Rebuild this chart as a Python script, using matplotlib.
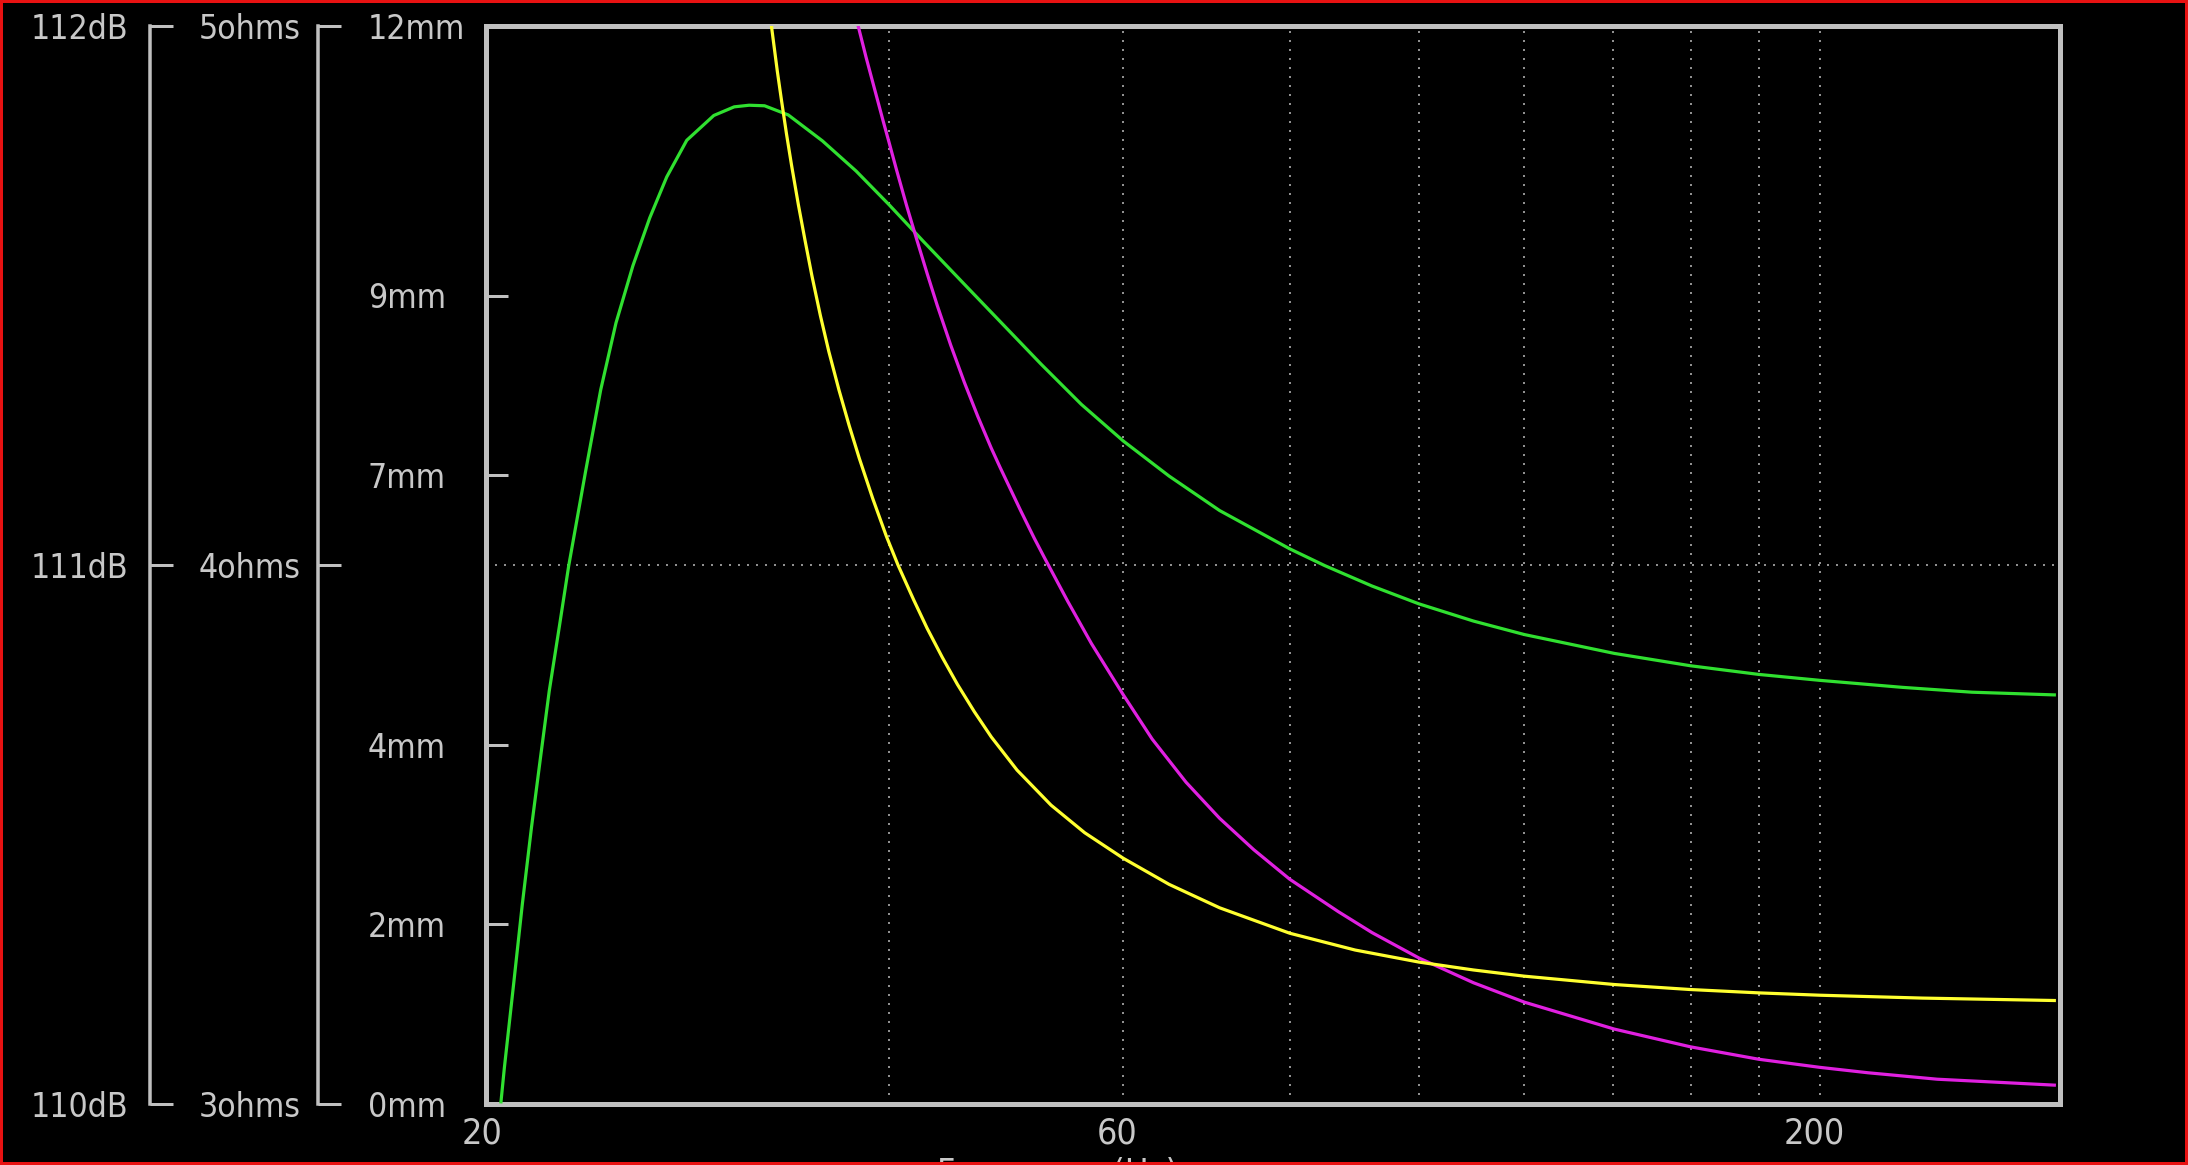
import matplotlib
matplotlib.use("Agg")
import matplotlib.pyplot as plt
from matplotlib import font_manager
from matplotlib.ticker import FixedLocator, NullFormatter
from matplotlib.patches import Rectangle
from matplotlib.transforms import ScaledTranslation

# ---------------- data ----------------
freq_spl = [20.46, 20.58, 20.92, 21.23, 21.57, 21.91, 22.24, 22.63, 23.00, 23.68,
            24.31, 24.96, 25.70, 26.46, 27.25, 28.21, 29.56, 30.62, 31.42, 32.27,
            33.62, 35.66, 37.80, 40.0, 42.48, 46.11, 49.71, 52.03, 55.80, 60.0,
            64.94, 70.87, 80.0, 84.97, 92.23, 100.0, 109.9, 120.0, 140.2, 160.0,
            180.0, 200.0, 230.7, 260.2, 300.0]
spl_db = [110.004, 110.067, 110.226, 110.371, 110.514, 110.644, 110.766, 110.885, 110.998, 111.173,
          111.325, 111.449, 111.555, 111.644, 111.720, 111.788, 111.834, 111.850, 111.853, 111.852,
          111.835, 111.787, 111.731, 111.669, 111.600, 111.508, 111.424, 111.373, 111.298, 111.230,
          111.165, 111.101, 111.030, 110.999, 110.961, 110.928, 110.896, 110.871, 110.836, 110.813,
          110.797, 110.786, 110.773, 110.764, 110.759]

freq_exc = [32.65, 32.99, 33.23, 33.52, 33.81, 34.21, 34.62, 35.02, 35.54, 36.06,
            36.70, 37.35, 38.01, 38.91, 39.83, 40.65, 41.75, 42.74, 43.88, 45.04,
            46.38, 47.75, 49.93, 52.95, 56.12, 60.0, 64.94, 70.87, 80.0, 89.57,
            100.0, 109.9, 120.0, 140.2, 160.0, 180.0, 200.0, 238.8, 300.0]
exc_mm = [12.009, 11.496, 11.171, 10.795, 10.452, 10.013, 9.603, 9.222, 8.776, 8.378,
          7.948, 7.554, 7.189, 6.738, 6.322, 5.997, 5.615, 5.296, 4.971, 4.671,
          4.366, 4.087, 3.717, 3.327, 3.020, 2.735, 2.445, 2.184, 1.901, 1.714,
          1.580, 1.492, 1.423, 1.330, 1.274, 1.237, 1.211, 1.179, 1.152]

freq_ohm = [37.93, 38.46, 39.03, 39.60, 40.0, 40.53, 41.25, 41.98, 42.74, 43.49,
            44.52, 45.58, 46.65, 47.75, 48.49, 50.24, 51.43, 52.34, 54.52, 56.79,
            60.0, 63.07, 66.87, 70.87, 75.16, 80.0, 86.99, 92.23, 100.0, 109.9,
            120.0, 140.2, 160.0, 180.0, 200.0, 217.3, 245.0, 300.0]
ohm_vals = [5.001, 4.942, 4.883, 4.825, 4.786, 4.734, 4.667, 4.604, 4.541, 4.482,
            4.408, 4.339, 4.276, 4.217, 4.181, 4.101, 4.050, 4.014, 3.932, 3.854,
            3.759, 3.677, 3.597, 3.530, 3.472, 3.417, 3.357, 3.318, 3.271, 3.225,
            3.189, 3.139, 3.106, 3.083, 3.068, 3.058, 3.046, 3.035]

x_ticks = [20, 60, 200]
x_tick_labels = ["20", "60", "200"]
x_grid_minor = [40, 80, 100, 120, 140, 160, 180]
mm_ticks = [0, 2, 4, 7, 9, 12]
mm_labels = ["0mm", "2mm", "4mm", "7mm", "9mm", "12mm"]
db_ticks = [110, 111, 112]
db_labels = ["110dB", "111dB", "112dB"]
ohm_ticks = [3, 4, 5]
ohm_labels = ["3ohms", "4ohms", "5ohms"]
x_label = "Frequency (Hz)"

# ---------------- style ----------------
W, H, DPI = 2188, 1165, 100
PT = 72.0 / DPI  # points per pixel

names = {f.name for f in font_manager.fontManager.ttflist}
stretch = "normal"
if "Liberation Sans Narrow" in names:
    FONT, scale = "Liberation Sans Narrow", 1.0
elif any(f.name == "DejaVu Sans" and str(f.stretch) == "condensed"
         for f in font_manager.fontManager.ttflist):
    FONT, scale, stretch = "DejaVu Sans", 0.95, "condensed"
else:
    FONT, scale = "Liberation Sans", 0.9
plt.rcParams["font.family"] = [FONT, "DejaVu Sans"]
plt.rcParams["font.stretch"] = stretch

TXT = "#c8c8c8"
FRAME = "#c0c0c0"
GRID = "#909090"
C_SPL, C_EXC, C_OHM = "#30e030", "#ffff30", "#e020e0"
LW = 3.2 * PT
DOTS = (0, (1, 3.5))

fig = plt.figure(figsize=(W / DPI, H / DPI), dpi=DPI, facecolor="black")


def fx(px):
    return px / W


def fy(py):
    return 1 - py / H


left_px, right_px, top_px, bot_px = 485.5, 2059.5, 26.0, 1104.0
ax = fig.add_axes([fx(left_px), fy(bot_px), (right_px - left_px) / W, (bot_px - top_px) / H])
ax.set_facecolor("black")
ax.set_xscale("log")
ax.set_xlim(19.92, 302.7)
ax.set_ylim(0, 12)
for s in ax.spines.values():
    s.set_color(FRAME)
    s.set_linewidth(5 * PT)

ax.set_xticks(x_ticks, labels=x_tick_labels)
ax.xaxis.set_minor_locator(FixedLocator(x_grid_minor))
ax.xaxis.set_minor_formatter(NullFormatter())
ax.tick_params(axis="x", which="both", length=0, pad=12 * PT,
               labelsize=27 * scale, labelcolor=TXT)
ax.grid(True, which="both", axis="x", color=GRID, linewidth=2 * PT, linestyle=DOTS)

ax.set_yticks(mm_ticks, labels=mm_labels, ha="left")
ax.yaxis.set_minor_locator(FixedLocator([6, 12]))
ax.tick_params(axis="y", which="major", direction="in", length=22 * PT, width=3 * PT,
               color=FRAME, pad=(left_px - 368) * PT, labelsize=25.5 * scale, labelcolor=TXT)
ax.tick_params(axis="y", which="minor", length=0)
ax.grid(True, which="minor", axis="y", color=GRID, linewidth=2 * PT, linestyle=DOTS)

# x tick labels sit a few pixels left of their ticks in the reference
shift = ScaledTranslation(-6 / DPI, 0, fig.dpi_scale_trans)
for lbl in ax.get_xticklabels():
    lbl.set_transform(lbl.get_transform() + shift)


def side_axis(lim, ticks, labels, spine_px):
    a = ax.twinx()
    a.set_ylim(*lim)
    a.yaxis.set_ticks_position("left")
    for k in ("right", "top", "bottom"):
        a.spines[k].set_visible(False)
    sp = a.spines["left"]
    sp.set_visible(True)
    sp.set_position(("outward", (left_px - spine_px) * PT))
    sp.set_color(FRAME)
    sp.set_linewidth(3.5 * PT)
    a.set_yticks(ticks, labels=labels, ha="left")
    a.tick_params(axis="y", direction="in", length=23 * PT, width=3 * PT, color=FRAME,
                  pad=119 * PT, labelsize=25.5 * scale, labelcolor=TXT)
    return a


ax_db = side_axis((110, 112), db_ticks, db_labels, 150)
ax_ohm = side_axis((3, 5), ohm_ticks, ohm_labels, 318)

ax_exc = ax.twinx()
ax_exc.set_ylim(0, 12)
ax_exc.yaxis.set_visible(False)
for s in ax_exc.spines.values():
    s.set_visible(False)

ax_db.plot(freq_spl, spl_db, color=C_SPL, linewidth=LW)
ax_ohm.plot(freq_ohm, ohm_vals, color=C_OHM, linewidth=LW)
ax_exc.plot(freq_exc, exc_mm, color=C_EXC, linewidth=LW)

fig.text(fx(937), fy(1184), x_label, ha="left", va="baseline",
         fontsize=27 * scale, color=TXT)

fig.add_artist(Rectangle((0, 0), 1, 1, transform=fig.transFigure, fill=False,
                         edgecolor="#e81212", linewidth=6 * PT, zorder=20))

fig.savefig("out.png", dpi=DPI, facecolor="black")
